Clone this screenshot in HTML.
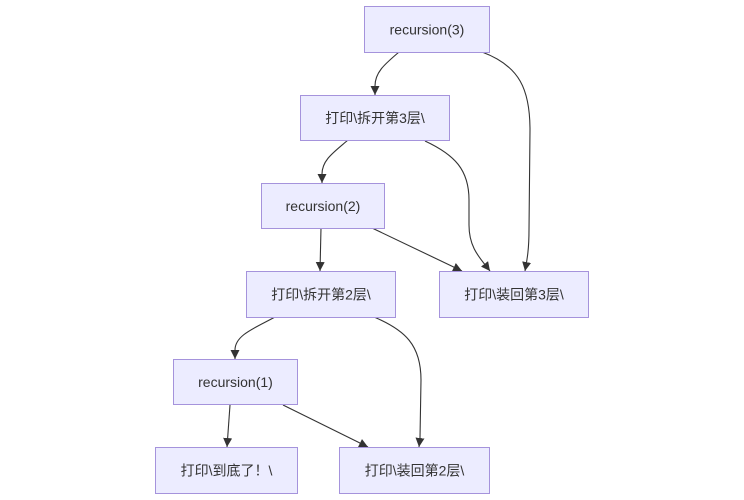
<!DOCTYPE html>
<html>
<head>
<meta charset="utf-8">
<style>
  html, body { margin: 0; padding: 0; background: #ffffff; }
  svg { display: block; }
  .node rect { fill: #ECECFF; stroke: #a593dc; stroke-width: 1; }
  .node text { font-family: "Liberation Sans", "Noto Sans CJK SC", sans-serif; font-size: 14px; fill: #333333; text-anchor: middle; dominant-baseline: central; }
  .edge { fill: none; stroke: #333333; stroke-width: 1.1; marker-end: url(#arrow); }
</style>
</head>
<body>
<svg width="744" height="500" viewBox="0 0 744 500" xmlns="http://www.w3.org/2000/svg">
  <defs>
    <marker id="arrow" viewBox="0 0 10 10" refX="10" refY="5" markerUnits="userSpaceOnUse" markerWidth="9" markerHeight="9" orient="auto">
      <path d="M0,0 L10,5 L0,10 z" fill="#333333"/>
    </marker>
  </defs>

  <!-- edges -->
  <path class="edge" d="M399,52 C385,64 375,72 375,86 L375,95"/>
  <path class="edge" d="M482,52 C520,66 530,90 530,130 L529,230 C529,250 527,260 525,271"/>
  <path class="edge" d="M348,140 C334,152 322,160 322,174 L322,183"/>
  <path class="edge" d="M425,141 C455,155 469,170 469,200 L469,225 C469,248 480,258 490,271"/>
  <path class="edge" d="M321,228 L320,271"/>
  <path class="edge" d="M372,228 L462,271"/>
  <path class="edge" d="M275,317 C255,328 235,335 235,350 L235,359"/>
  <path class="edge" d="M374,317 C405,330 421,345 421,380 L420,438 L419,447"/>
  <path class="edge" d="M230,405 L227,447"/>
  <path class="edge" d="M283,405 L368,447"/>

  <!-- nodes -->
  <g class="node"><rect x="364.5" y="6.5" width="125" height="46"/><text x="427" y="29.5">recursion(3)</text></g>
  <g class="node"><rect x="300.5" y="95.5" width="149" height="45"/><text x="375" y="118">打印\拆开第3层\</text></g>
  <g class="node"><rect x="261.5" y="183.5" width="123" height="45"/><text x="323" y="206">recursion(2)</text></g>
  <g class="node"><rect x="246.5" y="271.5" width="149" height="46"/><text x="321" y="294.5">打印\拆开第2层\</text></g>
  <g class="node"><rect x="439.5" y="271.5" width="149" height="46"/><text x="514" y="294.5">打印\装回第3层\</text></g>
  <g class="node"><rect x="173.5" y="359.5" width="124" height="45"/><text x="235.5" y="382">recursion(1)</text></g>
  <g class="node"><rect x="155.5" y="447.5" width="142" height="46"/><text x="226.5" y="470.5">打印\到底了！\</text></g>
  <g class="node"><rect x="339.5" y="447.5" width="150" height="46"/><text x="414.5" y="470.5">打印\装回第2层\</text></g>
</svg>
</body>
</html>
